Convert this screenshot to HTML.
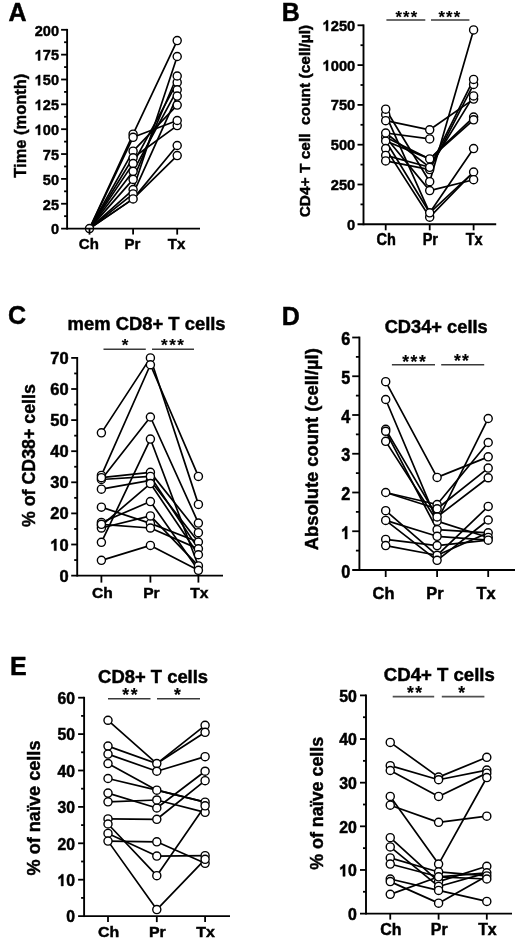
<!DOCTYPE html>
<html><head><meta charset="utf-8"><style>
html,body{margin:0;padding:0;background:#fff;}
svg{display:block;will-change:transform;}
text{font-family:"Liberation Sans", sans-serif;font-weight:bold;fill:#000;stroke:#000;stroke-width:0.45px;}
text.st{stroke-width:0.15px;}
</style></head><body>
<svg width="520" height="945" viewBox="0 0 520 945">
<rect width="520" height="945" fill="#fff"/>
<path d="M89.50,228.60 L133.10,134.20 L177.20,40.60" fill="none" stroke="#000" stroke-width="1.7" stroke-linejoin="round"/>
<path d="M89.50,228.60 L133.10,137.30 L177.20,120.50" fill="none" stroke="#000" stroke-width="1.7" stroke-linejoin="round"/>
<path d="M89.50,228.60 L133.10,151.20 L177.20,105.10" fill="none" stroke="#000" stroke-width="1.7" stroke-linejoin="round"/>
<path d="M89.50,228.60 L133.10,157.80 L177.20,125.60" fill="none" stroke="#000" stroke-width="1.7" stroke-linejoin="round"/>
<path d="M89.50,228.60 L133.10,163.60 L177.20,82.40" fill="none" stroke="#000" stroke-width="1.7" stroke-linejoin="round"/>
<path d="M89.50,228.60 L133.10,171.30 L177.20,89.80" fill="none" stroke="#000" stroke-width="1.7" stroke-linejoin="round"/>
<path d="M89.50,228.60 L133.10,179.40 L177.20,76.00" fill="none" stroke="#000" stroke-width="1.7" stroke-linejoin="round"/>
<path d="M89.50,228.60 L133.10,189.60 L177.20,56.50" fill="none" stroke="#000" stroke-width="1.7" stroke-linejoin="round"/>
<path d="M89.50,228.60 L133.10,193.90 L177.20,96.10" fill="none" stroke="#000" stroke-width="1.7" stroke-linejoin="round"/>
<path d="M89.50,228.60 L133.10,198.90 L177.20,145.50" fill="none" stroke="#000" stroke-width="1.7" stroke-linejoin="round"/>
<path d="M89.50,228.60 L133.10,198.90 L177.20,155.60" fill="none" stroke="#000" stroke-width="1.7" stroke-linejoin="round"/>
<circle cx="89.50" cy="228.60" r="4.05" fill="#fff" stroke="#000" stroke-width="1.4"/>
<circle cx="133.10" cy="134.20" r="4.05" fill="#fff" stroke="#000" stroke-width="1.4"/>
<circle cx="133.10" cy="189.60" r="4.05" fill="#fff" stroke="#000" stroke-width="1.4"/>
<circle cx="133.10" cy="193.90" r="4.05" fill="#fff" stroke="#000" stroke-width="1.4"/>
<circle cx="133.10" cy="137.30" r="4.05" fill="#fff" stroke="#000" stroke-width="1.4"/>
<circle cx="133.10" cy="151.20" r="4.05" fill="#fff" stroke="#000" stroke-width="1.4"/>
<circle cx="133.10" cy="157.80" r="4.05" fill="#fff" stroke="#000" stroke-width="1.4"/>
<circle cx="133.10" cy="163.60" r="4.05" fill="#fff" stroke="#000" stroke-width="1.4"/>
<circle cx="133.10" cy="171.30" r="4.05" fill="#fff" stroke="#000" stroke-width="1.4"/>
<circle cx="133.10" cy="179.40" r="4.05" fill="#fff" stroke="#000" stroke-width="1.4"/>
<circle cx="133.10" cy="198.90" r="4.05" fill="#fff" stroke="#000" stroke-width="1.4"/>
<circle cx="177.20" cy="125.60" r="4.05" fill="#fff" stroke="#000" stroke-width="1.4"/>
<circle cx="177.20" cy="40.60" r="4.05" fill="#fff" stroke="#000" stroke-width="1.4"/>
<circle cx="177.20" cy="120.50" r="4.05" fill="#fff" stroke="#000" stroke-width="1.4"/>
<circle cx="177.20" cy="105.10" r="4.05" fill="#fff" stroke="#000" stroke-width="1.4"/>
<circle cx="177.20" cy="82.40" r="4.05" fill="#fff" stroke="#000" stroke-width="1.4"/>
<circle cx="177.20" cy="89.80" r="4.05" fill="#fff" stroke="#000" stroke-width="1.4"/>
<circle cx="177.20" cy="76.00" r="4.05" fill="#fff" stroke="#000" stroke-width="1.4"/>
<circle cx="177.20" cy="56.50" r="4.05" fill="#fff" stroke="#000" stroke-width="1.4"/>
<circle cx="177.20" cy="96.10" r="4.05" fill="#fff" stroke="#000" stroke-width="1.4"/>
<circle cx="177.20" cy="145.50" r="4.05" fill="#fff" stroke="#000" stroke-width="1.4"/>
<circle cx="177.20" cy="155.60" r="4.05" fill="#fff" stroke="#000" stroke-width="1.4"/>
<line x1="67.10" y1="28.90" x2="67.10" y2="229.55" stroke="#000" stroke-width="1.9"/>
<line x1="61.10" y1="228.60" x2="200.00" y2="228.60" stroke="#000" stroke-width="1.9"/>
<text transform="translate(59.00 234.36) scale(0.970 1.000)" font-size="15" text-anchor="end">0</text>
<line x1="61.10" y1="203.75" x2="67.10" y2="203.75" stroke="#000" stroke-width="1.8"/>
<text transform="translate(59.00 209.51) scale(0.970 1.000)" font-size="15" text-anchor="end">25</text>
<line x1="61.10" y1="178.90" x2="67.10" y2="178.90" stroke="#000" stroke-width="1.8"/>
<text transform="translate(59.00 184.66) scale(0.970 1.000)" font-size="15" text-anchor="end">50</text>
<line x1="61.10" y1="154.05" x2="67.10" y2="154.05" stroke="#000" stroke-width="1.8"/>
<text transform="translate(59.00 159.81) scale(0.970 1.000)" font-size="15" text-anchor="end">75</text>
<line x1="61.10" y1="129.20" x2="67.10" y2="129.20" stroke="#000" stroke-width="1.8"/>
<text transform="translate(59.00 134.96) scale(0.970 1.000)" font-size="15" text-anchor="end"> 00</text>
<g transform="translate(59.00 134.96) scale(0.970 1.000)"><path transform="translate(-25.027 0) scale(0.007324 -0.007324)" d="M759 0H478V1012Q330 880 140 810V1076Q300 1130 420 1250Q500 1330 540 1409H759Z" stroke="#000" stroke-width="0.45" vector-effect="non-scaling-stroke"/></g>
<line x1="61.10" y1="104.35" x2="67.10" y2="104.35" stroke="#000" stroke-width="1.8"/>
<text transform="translate(59.00 110.11) scale(0.970 1.000)" font-size="15" text-anchor="end"> 25</text>
<g transform="translate(59.00 110.11) scale(0.970 1.000)"><path transform="translate(-25.027 0) scale(0.007324 -0.007324)" d="M759 0H478V1012Q330 880 140 810V1076Q300 1130 420 1250Q500 1330 540 1409H759Z" stroke="#000" stroke-width="0.45" vector-effect="non-scaling-stroke"/></g>
<line x1="61.10" y1="79.50" x2="67.10" y2="79.50" stroke="#000" stroke-width="1.8"/>
<text transform="translate(59.00 85.26) scale(0.970 1.000)" font-size="15" text-anchor="end"> 50</text>
<g transform="translate(59.00 85.26) scale(0.970 1.000)"><path transform="translate(-25.027 0) scale(0.007324 -0.007324)" d="M759 0H478V1012Q330 880 140 810V1076Q300 1130 420 1250Q500 1330 540 1409H759Z" stroke="#000" stroke-width="0.45" vector-effect="non-scaling-stroke"/></g>
<line x1="61.10" y1="54.65" x2="67.10" y2="54.65" stroke="#000" stroke-width="1.8"/>
<text transform="translate(59.00 60.41) scale(0.970 1.000)" font-size="15" text-anchor="end"> 75</text>
<g transform="translate(59.00 60.41) scale(0.970 1.000)"><path transform="translate(-25.027 0) scale(0.007324 -0.007324)" d="M759 0H478V1012Q330 880 140 810V1076Q300 1130 420 1250Q500 1330 540 1409H759Z" stroke="#000" stroke-width="0.45" vector-effect="non-scaling-stroke"/></g>
<line x1="61.10" y1="29.80" x2="67.10" y2="29.80" stroke="#000" stroke-width="1.8"/>
<text transform="translate(59.00 35.56) scale(0.970 1.000)" font-size="15" text-anchor="end">200</text>
<line x1="64.10" y1="216.17" x2="67.10" y2="216.17" stroke="#000" stroke-width="1.8"/>
<line x1="64.10" y1="191.32" x2="67.10" y2="191.32" stroke="#000" stroke-width="1.8"/>
<line x1="64.10" y1="166.47" x2="67.10" y2="166.47" stroke="#000" stroke-width="1.8"/>
<line x1="64.10" y1="141.62" x2="67.10" y2="141.62" stroke="#000" stroke-width="1.8"/>
<line x1="64.10" y1="116.77" x2="67.10" y2="116.77" stroke="#000" stroke-width="1.8"/>
<line x1="64.10" y1="91.92" x2="67.10" y2="91.92" stroke="#000" stroke-width="1.8"/>
<line x1="64.10" y1="67.07" x2="67.10" y2="67.07" stroke="#000" stroke-width="1.8"/>
<line x1="64.10" y1="42.22" x2="67.10" y2="42.22" stroke="#000" stroke-width="1.8"/>
<line x1="89.50" y1="228.60" x2="89.50" y2="234.60" stroke="#000" stroke-width="1.8"/>
<text transform="translate(88.80 248.60) scale(1.000 1.030)" font-size="15" text-anchor="middle">Ch</text>
<line x1="133.10" y1="228.60" x2="133.10" y2="234.60" stroke="#000" stroke-width="1.8"/>
<text transform="translate(132.40 248.60) scale(1.000 1.030)" font-size="15" text-anchor="middle">Pr</text>
<line x1="177.20" y1="228.60" x2="177.20" y2="234.60" stroke="#000" stroke-width="1.8"/>
<text transform="translate(176.50 248.60) scale(1.000 1.030)" font-size="15" text-anchor="middle">Tx</text>
<text transform="translate(26.20 125.70) rotate(-90)" font-size="17" text-anchor="middle" textLength="104" lengthAdjust="spacingAndGlyphs">Time (month)</text>
<path d="M385.70,109.20 L429.70,181.70 L473.60,29.90" fill="none" stroke="#000" stroke-width="1.7" stroke-linejoin="round"/>
<path d="M385.70,114.70 L429.70,212.80 L473.60,148.60" fill="none" stroke="#000" stroke-width="1.7" stroke-linejoin="round"/>
<path d="M385.70,120.70 L429.70,129.80 L473.60,99.10" fill="none" stroke="#000" stroke-width="1.7" stroke-linejoin="round"/>
<path d="M385.70,133.00 L429.70,138.90" fill="none" stroke="#000" stroke-width="1.7" stroke-linejoin="round"/>
<path d="M385.70,137.20 L429.70,158.90 L473.60,117.10" fill="none" stroke="#000" stroke-width="1.7" stroke-linejoin="round"/>
<path d="M385.70,141.00 L429.70,212.80 L473.60,172.00" fill="none" stroke="#000" stroke-width="1.7" stroke-linejoin="round"/>
<path d="M385.70,148.60 L429.70,217.20 L473.60,172.00" fill="none" stroke="#000" stroke-width="1.7" stroke-linejoin="round"/>
<path d="M385.70,155.40 L429.70,167.30 L473.60,79.40" fill="none" stroke="#000" stroke-width="1.7" stroke-linejoin="round"/>
<path d="M385.70,160.90 L429.70,169.60 L473.60,84.40" fill="none" stroke="#000" stroke-width="1.7" stroke-linejoin="round"/>
<path d="M385.70,137.20 L429.70,190.60 L473.60,179.70" fill="none" stroke="#000" stroke-width="1.7" stroke-linejoin="round"/>
<path d="M385.70,141.00 L429.70,158.90 L473.60,119.80" fill="none" stroke="#000" stroke-width="1.7" stroke-linejoin="round"/>
<path d="M385.70,133.00 L429.70,167.30 L473.60,95.90" fill="none" stroke="#000" stroke-width="1.7" stroke-linejoin="round"/>
<circle cx="385.70" cy="114.70" r="4.05" fill="#fff" stroke="#000" stroke-width="1.4"/>
<circle cx="385.70" cy="137.20" r="4.05" fill="#fff" stroke="#000" stroke-width="1.4"/>
<circle cx="385.70" cy="141.00" r="4.05" fill="#fff" stroke="#000" stroke-width="1.4"/>
<circle cx="385.70" cy="109.20" r="4.05" fill="#fff" stroke="#000" stroke-width="1.4"/>
<circle cx="385.70" cy="120.70" r="4.05" fill="#fff" stroke="#000" stroke-width="1.4"/>
<circle cx="385.70" cy="133.00" r="4.05" fill="#fff" stroke="#000" stroke-width="1.4"/>
<circle cx="385.70" cy="148.60" r="4.05" fill="#fff" stroke="#000" stroke-width="1.4"/>
<circle cx="385.70" cy="155.40" r="4.05" fill="#fff" stroke="#000" stroke-width="1.4"/>
<circle cx="385.70" cy="160.90" r="4.05" fill="#fff" stroke="#000" stroke-width="1.4"/>
<circle cx="429.70" cy="169.60" r="4.05" fill="#fff" stroke="#000" stroke-width="1.4"/>
<circle cx="429.70" cy="217.20" r="4.05" fill="#fff" stroke="#000" stroke-width="1.4"/>
<circle cx="429.70" cy="181.70" r="4.05" fill="#fff" stroke="#000" stroke-width="1.4"/>
<circle cx="429.70" cy="212.80" r="4.05" fill="#fff" stroke="#000" stroke-width="1.4"/>
<circle cx="429.70" cy="129.80" r="4.05" fill="#fff" stroke="#000" stroke-width="1.4"/>
<circle cx="429.70" cy="138.90" r="4.05" fill="#fff" stroke="#000" stroke-width="1.4"/>
<circle cx="429.70" cy="158.90" r="4.05" fill="#fff" stroke="#000" stroke-width="1.4"/>
<circle cx="429.70" cy="167.30" r="4.05" fill="#fff" stroke="#000" stroke-width="1.4"/>
<circle cx="429.70" cy="190.60" r="4.05" fill="#fff" stroke="#000" stroke-width="1.4"/>
<circle cx="473.60" cy="84.40" r="4.05" fill="#fff" stroke="#000" stroke-width="1.4"/>
<circle cx="473.60" cy="99.10" r="4.05" fill="#fff" stroke="#000" stroke-width="1.4"/>
<circle cx="473.60" cy="117.10" r="4.05" fill="#fff" stroke="#000" stroke-width="1.4"/>
<circle cx="473.60" cy="29.90" r="4.05" fill="#fff" stroke="#000" stroke-width="1.4"/>
<circle cx="473.60" cy="148.60" r="4.05" fill="#fff" stroke="#000" stroke-width="1.4"/>
<circle cx="473.60" cy="172.00" r="4.05" fill="#fff" stroke="#000" stroke-width="1.4"/>
<circle cx="473.60" cy="79.40" r="4.05" fill="#fff" stroke="#000" stroke-width="1.4"/>
<circle cx="473.60" cy="179.70" r="4.05" fill="#fff" stroke="#000" stroke-width="1.4"/>
<circle cx="473.60" cy="119.80" r="4.05" fill="#fff" stroke="#000" stroke-width="1.4"/>
<circle cx="473.60" cy="95.90" r="4.05" fill="#fff" stroke="#000" stroke-width="1.4"/>
<line x1="363.50" y1="24.40" x2="363.50" y2="225.25" stroke="#000" stroke-width="1.9"/>
<line x1="357.50" y1="224.30" x2="496.20" y2="224.30" stroke="#000" stroke-width="1.9"/>
<text transform="translate(355.30 229.86) scale(0.980 1.020)" font-size="15" text-anchor="end">0</text>
<line x1="357.50" y1="184.50" x2="363.50" y2="184.50" stroke="#000" stroke-width="1.8"/>
<text transform="translate(355.30 190.06) scale(0.980 1.020)" font-size="15" text-anchor="end">250</text>
<line x1="357.50" y1="144.70" x2="363.50" y2="144.70" stroke="#000" stroke-width="1.8"/>
<text transform="translate(355.30 150.26) scale(0.980 1.020)" font-size="15" text-anchor="end">500</text>
<line x1="357.50" y1="104.90" x2="363.50" y2="104.90" stroke="#000" stroke-width="1.8"/>
<text transform="translate(355.30 110.46) scale(0.980 1.020)" font-size="15" text-anchor="end">750</text>
<line x1="357.50" y1="65.10" x2="363.50" y2="65.10" stroke="#000" stroke-width="1.8"/>
<text transform="translate(355.30 70.66) scale(0.980 1.020)" font-size="15" text-anchor="end"> 000</text>
<g transform="translate(355.30 70.66) scale(0.980 1.020)"><path transform="translate(-33.369 0) scale(0.007324 -0.007324)" d="M759 0H478V1012Q330 880 140 810V1076Q300 1130 420 1250Q500 1330 540 1409H759Z" stroke="#000" stroke-width="0.45" vector-effect="non-scaling-stroke"/></g>
<line x1="357.50" y1="25.30" x2="363.50" y2="25.30" stroke="#000" stroke-width="1.8"/>
<text transform="translate(355.30 30.86) scale(0.980 1.020)" font-size="15" text-anchor="end"> 250</text>
<g transform="translate(355.30 30.86) scale(0.980 1.020)"><path transform="translate(-33.369 0) scale(0.007324 -0.007324)" d="M759 0H478V1012Q330 880 140 810V1076Q300 1130 420 1250Q500 1330 540 1409H759Z" stroke="#000" stroke-width="0.45" vector-effect="non-scaling-stroke"/></g>
<line x1="360.50" y1="204.40" x2="363.50" y2="204.40" stroke="#000" stroke-width="1.8"/>
<line x1="360.50" y1="164.60" x2="363.50" y2="164.60" stroke="#000" stroke-width="1.8"/>
<line x1="360.50" y1="124.80" x2="363.50" y2="124.80" stroke="#000" stroke-width="1.8"/>
<line x1="360.50" y1="85.00" x2="363.50" y2="85.00" stroke="#000" stroke-width="1.8"/>
<line x1="360.50" y1="45.20" x2="363.50" y2="45.20" stroke="#000" stroke-width="1.8"/>
<line x1="385.70" y1="224.30" x2="385.70" y2="230.30" stroke="#000" stroke-width="1.8"/>
<text transform="translate(386.30 244.50) scale(0.970 1.060)" font-size="15" text-anchor="middle">Ch</text>
<line x1="429.70" y1="224.30" x2="429.70" y2="230.30" stroke="#000" stroke-width="1.8"/>
<text transform="translate(430.30 244.50) scale(0.970 1.060)" font-size="15" text-anchor="middle">Pr</text>
<line x1="473.60" y1="224.30" x2="473.60" y2="230.30" stroke="#000" stroke-width="1.8"/>
<text transform="translate(474.20 244.50) scale(0.970 1.060)" font-size="15" text-anchor="middle">Tx</text>
<text transform="translate(310.00 121.10) rotate(-90)" font-size="15.2" text-anchor="middle" textLength="192.5" lengthAdjust="spacingAndGlyphs">CD4+ T cell&#160;&#160;count (cell/µl)</text>
<path d="M101.40,432.85 L150.40,357.90 L198.40,504.38" fill="none" stroke="#000" stroke-width="1.7" stroke-linejoin="round"/>
<path d="M101.40,475.46 L150.40,364.74 L198.40,476.39" fill="none" stroke="#000" stroke-width="1.7" stroke-linejoin="round"/>
<path d="M101.40,479.50 L150.40,416.99 L198.40,523.04" fill="none" stroke="#000" stroke-width="1.7" stroke-linejoin="round"/>
<path d="M101.40,542.32 L150.40,439.07 L198.40,565.96" fill="none" stroke="#000" stroke-width="1.7" stroke-linejoin="round"/>
<path d="M101.40,477.64 L150.40,472.35 L198.40,532.68" fill="none" stroke="#000" stroke-width="1.7" stroke-linejoin="round"/>
<path d="M101.40,489.14 L150.40,480.43 L198.40,542.01" fill="none" stroke="#000" stroke-width="1.7" stroke-linejoin="round"/>
<path d="M101.40,479.50 L150.40,476.39 L198.40,548.85" fill="none" stroke="#000" stroke-width="1.7" stroke-linejoin="round"/>
<path d="M101.40,525.53 L150.40,483.54 L198.40,554.76" fill="none" stroke="#000" stroke-width="1.7" stroke-linejoin="round"/>
<path d="M101.40,522.42 L150.40,501.58 L198.40,570.31" fill="none" stroke="#000" stroke-width="1.7" stroke-linejoin="round"/>
<path d="M101.40,507.18 L150.40,523.35 L198.40,542.01" fill="none" stroke="#000" stroke-width="1.7" stroke-linejoin="round"/>
<path d="M101.40,528.02 L150.40,515.89 L198.40,565.96" fill="none" stroke="#000" stroke-width="1.7" stroke-linejoin="round"/>
<path d="M101.40,524.29 L150.40,528.02 L198.40,548.85" fill="none" stroke="#000" stroke-width="1.7" stroke-linejoin="round"/>
<path d="M101.40,560.36 L150.40,545.43 L198.40,570.31" fill="none" stroke="#000" stroke-width="1.7" stroke-linejoin="round"/>
<circle cx="101.40" cy="432.85" r="4.05" fill="#fff" stroke="#000" stroke-width="1.4"/>
<circle cx="101.40" cy="475.46" r="4.05" fill="#fff" stroke="#000" stroke-width="1.4"/>
<circle cx="101.40" cy="479.50" r="4.05" fill="#fff" stroke="#000" stroke-width="1.4"/>
<circle cx="101.40" cy="542.32" r="4.05" fill="#fff" stroke="#000" stroke-width="1.4"/>
<circle cx="101.40" cy="477.64" r="4.05" fill="#fff" stroke="#000" stroke-width="1.4"/>
<circle cx="101.40" cy="489.14" r="4.05" fill="#fff" stroke="#000" stroke-width="1.4"/>
<circle cx="101.40" cy="525.53" r="4.05" fill="#fff" stroke="#000" stroke-width="1.4"/>
<circle cx="101.40" cy="522.42" r="4.05" fill="#fff" stroke="#000" stroke-width="1.4"/>
<circle cx="101.40" cy="507.18" r="4.05" fill="#fff" stroke="#000" stroke-width="1.4"/>
<circle cx="101.40" cy="528.02" r="4.05" fill="#fff" stroke="#000" stroke-width="1.4"/>
<circle cx="101.40" cy="524.29" r="4.05" fill="#fff" stroke="#000" stroke-width="1.4"/>
<circle cx="101.40" cy="560.36" r="4.05" fill="#fff" stroke="#000" stroke-width="1.4"/>
<circle cx="150.40" cy="357.90" r="4.05" fill="#fff" stroke="#000" stroke-width="1.4"/>
<circle cx="150.40" cy="364.74" r="4.05" fill="#fff" stroke="#000" stroke-width="1.4"/>
<circle cx="150.40" cy="416.99" r="4.05" fill="#fff" stroke="#000" stroke-width="1.4"/>
<circle cx="150.40" cy="439.07" r="4.05" fill="#fff" stroke="#000" stroke-width="1.4"/>
<circle cx="150.40" cy="472.35" r="4.05" fill="#fff" stroke="#000" stroke-width="1.4"/>
<circle cx="150.40" cy="480.43" r="4.05" fill="#fff" stroke="#000" stroke-width="1.4"/>
<circle cx="150.40" cy="476.39" r="4.05" fill="#fff" stroke="#000" stroke-width="1.4"/>
<circle cx="150.40" cy="483.54" r="4.05" fill="#fff" stroke="#000" stroke-width="1.4"/>
<circle cx="150.40" cy="501.58" r="4.05" fill="#fff" stroke="#000" stroke-width="1.4"/>
<circle cx="150.40" cy="523.35" r="4.05" fill="#fff" stroke="#000" stroke-width="1.4"/>
<circle cx="150.40" cy="515.89" r="4.05" fill="#fff" stroke="#000" stroke-width="1.4"/>
<circle cx="150.40" cy="528.02" r="4.05" fill="#fff" stroke="#000" stroke-width="1.4"/>
<circle cx="150.40" cy="545.43" r="4.05" fill="#fff" stroke="#000" stroke-width="1.4"/>
<circle cx="198.40" cy="504.38" r="4.05" fill="#fff" stroke="#000" stroke-width="1.4"/>
<circle cx="198.40" cy="476.39" r="4.05" fill="#fff" stroke="#000" stroke-width="1.4"/>
<circle cx="198.40" cy="523.04" r="4.05" fill="#fff" stroke="#000" stroke-width="1.4"/>
<circle cx="198.40" cy="565.96" r="4.05" fill="#fff" stroke="#000" stroke-width="1.4"/>
<circle cx="198.40" cy="532.68" r="4.05" fill="#fff" stroke="#000" stroke-width="1.4"/>
<circle cx="198.40" cy="542.01" r="4.05" fill="#fff" stroke="#000" stroke-width="1.4"/>
<circle cx="198.40" cy="548.85" r="4.05" fill="#fff" stroke="#000" stroke-width="1.4"/>
<circle cx="198.40" cy="554.76" r="4.05" fill="#fff" stroke="#000" stroke-width="1.4"/>
<circle cx="198.40" cy="570.31" r="4.05" fill="#fff" stroke="#000" stroke-width="1.4"/>
<line x1="77.20" y1="357.00" x2="77.20" y2="576.55" stroke="#000" stroke-width="1.9"/>
<line x1="71.20" y1="575.60" x2="223.00" y2="575.60" stroke="#000" stroke-width="1.9"/>
<text transform="translate(68.60 581.68) scale(1.100 1.120)" font-size="15" text-anchor="end">0</text>
<line x1="71.20" y1="544.50" x2="77.20" y2="544.50" stroke="#000" stroke-width="1.8"/>
<text transform="translate(68.60 550.58) scale(1.100 1.120)" font-size="15" text-anchor="end"> 0</text>
<g transform="translate(68.60 550.58) scale(1.100 1.120)"><path transform="translate(-16.685 0) scale(0.007324 -0.007324)" d="M759 0H478V1012Q330 880 140 810V1076Q300 1130 420 1250Q500 1330 540 1409H759Z" stroke="#000" stroke-width="0.45" vector-effect="non-scaling-stroke"/></g>
<line x1="71.20" y1="513.40" x2="77.20" y2="513.40" stroke="#000" stroke-width="1.8"/>
<text transform="translate(68.60 519.48) scale(1.100 1.120)" font-size="15" text-anchor="end">20</text>
<line x1="71.20" y1="482.30" x2="77.20" y2="482.30" stroke="#000" stroke-width="1.8"/>
<text transform="translate(68.60 488.38) scale(1.100 1.120)" font-size="15" text-anchor="end">30</text>
<line x1="71.20" y1="451.20" x2="77.20" y2="451.20" stroke="#000" stroke-width="1.8"/>
<text transform="translate(68.60 457.28) scale(1.100 1.120)" font-size="15" text-anchor="end">40</text>
<line x1="71.20" y1="420.10" x2="77.20" y2="420.10" stroke="#000" stroke-width="1.8"/>
<text transform="translate(68.60 426.18) scale(1.100 1.120)" font-size="15" text-anchor="end">50</text>
<line x1="71.20" y1="389.00" x2="77.20" y2="389.00" stroke="#000" stroke-width="1.8"/>
<text transform="translate(68.60 395.08) scale(1.100 1.120)" font-size="15" text-anchor="end">60</text>
<line x1="71.20" y1="357.90" x2="77.20" y2="357.90" stroke="#000" stroke-width="1.8"/>
<text transform="translate(68.60 363.98) scale(1.100 1.120)" font-size="15" text-anchor="end">70</text>
<line x1="74.20" y1="560.05" x2="77.20" y2="560.05" stroke="#000" stroke-width="1.8"/>
<line x1="74.20" y1="528.95" x2="77.20" y2="528.95" stroke="#000" stroke-width="1.8"/>
<line x1="74.20" y1="497.85" x2="77.20" y2="497.85" stroke="#000" stroke-width="1.8"/>
<line x1="74.20" y1="466.75" x2="77.20" y2="466.75" stroke="#000" stroke-width="1.8"/>
<line x1="74.20" y1="435.65" x2="77.20" y2="435.65" stroke="#000" stroke-width="1.8"/>
<line x1="74.20" y1="404.55" x2="77.20" y2="404.55" stroke="#000" stroke-width="1.8"/>
<line x1="74.20" y1="373.45" x2="77.20" y2="373.45" stroke="#000" stroke-width="1.8"/>
<line x1="101.40" y1="575.60" x2="101.40" y2="582.60" stroke="#000" stroke-width="1.8"/>
<text transform="translate(102.40 598.00) scale(1.040 0.990)" font-size="15" text-anchor="middle">Ch</text>
<line x1="150.40" y1="575.60" x2="150.40" y2="582.60" stroke="#000" stroke-width="1.8"/>
<text transform="translate(151.40 598.00) scale(1.040 0.990)" font-size="15" text-anchor="middle">Pr</text>
<line x1="198.40" y1="575.60" x2="198.40" y2="582.60" stroke="#000" stroke-width="1.8"/>
<text transform="translate(199.40 598.00) scale(1.040 0.990)" font-size="15" text-anchor="middle">Tx</text>
<text transform="translate(34.50 455.60) rotate(-90)" font-size="18" text-anchor="middle" textLength="143" lengthAdjust="spacingAndGlyphs">% of CD38+ cells</text>
<path d="M385.70,381.67 L437.10,477.39 L488.20,456.85" fill="none" stroke="#000" stroke-width="1.7" stroke-linejoin="round"/>
<path d="M385.70,399.50 L437.10,521.17 L488.20,418.49" fill="none" stroke="#000" stroke-width="1.7" stroke-linejoin="round"/>
<path d="M385.70,429.34 L437.10,516.91 L488.20,477.77" fill="none" stroke="#000" stroke-width="1.7" stroke-linejoin="round"/>
<path d="M385.70,431.27 L437.10,529.70 L488.20,532.80" fill="none" stroke="#000" stroke-width="1.7" stroke-linejoin="round"/>
<path d="M385.70,441.35 L437.10,521.17 L488.20,537.45" fill="none" stroke="#000" stroke-width="1.7" stroke-linejoin="round"/>
<path d="M385.70,492.50 L437.10,504.51 L488.20,442.51" fill="none" stroke="#000" stroke-width="1.7" stroke-linejoin="round"/>
<path d="M385.70,492.50 L437.10,508.77 L488.20,468.09" fill="none" stroke="#000" stroke-width="1.7" stroke-linejoin="round"/>
<path d="M385.70,510.71 L437.10,555.27 L488.20,506.45" fill="none" stroke="#000" stroke-width="1.7" stroke-linejoin="round"/>
<path d="M385.70,520.40 L437.10,560.31 L488.20,520.01" fill="none" stroke="#000" stroke-width="1.7" stroke-linejoin="round"/>
<path d="M385.70,539.39 L437.10,545.59 L488.20,540.16" fill="none" stroke="#000" stroke-width="1.7" stroke-linejoin="round"/>
<path d="M385.70,545.59 L437.10,555.27 L488.20,532.80" fill="none" stroke="#000" stroke-width="1.7" stroke-linejoin="round"/>
<path d="M385.70,520.40 L437.10,536.29 L488.20,540.16" fill="none" stroke="#000" stroke-width="1.7" stroke-linejoin="round"/>
<circle cx="385.70" cy="381.67" r="4.05" fill="#fff" stroke="#000" stroke-width="1.4"/>
<circle cx="385.70" cy="399.50" r="4.05" fill="#fff" stroke="#000" stroke-width="1.4"/>
<circle cx="385.70" cy="429.34" r="4.05" fill="#fff" stroke="#000" stroke-width="1.4"/>
<circle cx="385.70" cy="431.27" r="4.05" fill="#fff" stroke="#000" stroke-width="1.4"/>
<circle cx="385.70" cy="441.35" r="4.05" fill="#fff" stroke="#000" stroke-width="1.4"/>
<circle cx="385.70" cy="492.50" r="4.05" fill="#fff" stroke="#000" stroke-width="1.4"/>
<circle cx="385.70" cy="510.71" r="4.05" fill="#fff" stroke="#000" stroke-width="1.4"/>
<circle cx="385.70" cy="520.40" r="4.05" fill="#fff" stroke="#000" stroke-width="1.4"/>
<circle cx="385.70" cy="539.39" r="4.05" fill="#fff" stroke="#000" stroke-width="1.4"/>
<circle cx="385.70" cy="545.59" r="4.05" fill="#fff" stroke="#000" stroke-width="1.4"/>
<circle cx="437.10" cy="477.39" r="4.05" fill="#fff" stroke="#000" stroke-width="1.4"/>
<circle cx="437.10" cy="521.17" r="4.05" fill="#fff" stroke="#000" stroke-width="1.4"/>
<circle cx="437.10" cy="516.91" r="4.05" fill="#fff" stroke="#000" stroke-width="1.4"/>
<circle cx="437.10" cy="529.70" r="4.05" fill="#fff" stroke="#000" stroke-width="1.4"/>
<circle cx="437.10" cy="504.51" r="4.05" fill="#fff" stroke="#000" stroke-width="1.4"/>
<circle cx="437.10" cy="508.77" r="4.05" fill="#fff" stroke="#000" stroke-width="1.4"/>
<circle cx="437.10" cy="555.27" r="4.05" fill="#fff" stroke="#000" stroke-width="1.4"/>
<circle cx="437.10" cy="560.31" r="4.05" fill="#fff" stroke="#000" stroke-width="1.4"/>
<circle cx="437.10" cy="545.59" r="4.05" fill="#fff" stroke="#000" stroke-width="1.4"/>
<circle cx="437.10" cy="536.29" r="4.05" fill="#fff" stroke="#000" stroke-width="1.4"/>
<circle cx="488.20" cy="456.85" r="4.05" fill="#fff" stroke="#000" stroke-width="1.4"/>
<circle cx="488.20" cy="418.49" r="4.05" fill="#fff" stroke="#000" stroke-width="1.4"/>
<circle cx="488.20" cy="477.77" r="4.05" fill="#fff" stroke="#000" stroke-width="1.4"/>
<circle cx="488.20" cy="532.80" r="4.05" fill="#fff" stroke="#000" stroke-width="1.4"/>
<circle cx="488.20" cy="537.45" r="4.05" fill="#fff" stroke="#000" stroke-width="1.4"/>
<circle cx="488.20" cy="442.51" r="4.05" fill="#fff" stroke="#000" stroke-width="1.4"/>
<circle cx="488.20" cy="468.09" r="4.05" fill="#fff" stroke="#000" stroke-width="1.4"/>
<circle cx="488.20" cy="506.45" r="4.05" fill="#fff" stroke="#000" stroke-width="1.4"/>
<circle cx="488.20" cy="520.01" r="4.05" fill="#fff" stroke="#000" stroke-width="1.4"/>
<circle cx="488.20" cy="540.16" r="4.05" fill="#fff" stroke="#000" stroke-width="1.4"/>
<line x1="359.40" y1="336.60" x2="359.40" y2="570.95" stroke="#000" stroke-width="1.9"/>
<line x1="352.20" y1="570.00" x2="515.00" y2="570.00" stroke="#000" stroke-width="1.9"/>
<text transform="translate(350.20 577.70) scale(1.080 1.220)" font-size="15" text-anchor="end">0</text>
<line x1="352.20" y1="531.25" x2="359.40" y2="531.25" stroke="#000" stroke-width="1.8"/>
<text transform="translate(350.20 538.95) scale(1.080 1.220)" font-size="15" text-anchor="end"> </text>
<g transform="translate(350.20 538.95) scale(1.080 1.220)"><path transform="translate(-8.342 0) scale(0.007324 -0.007324)" d="M759 0H478V1012Q330 880 140 810V1076Q300 1130 420 1250Q500 1330 540 1409H759Z" stroke="#000" stroke-width="0.45" vector-effect="non-scaling-stroke"/></g>
<line x1="352.20" y1="492.50" x2="359.40" y2="492.50" stroke="#000" stroke-width="1.8"/>
<text transform="translate(350.20 500.20) scale(1.080 1.220)" font-size="15" text-anchor="end">2</text>
<line x1="352.20" y1="453.75" x2="359.40" y2="453.75" stroke="#000" stroke-width="1.8"/>
<text transform="translate(350.20 461.45) scale(1.080 1.220)" font-size="15" text-anchor="end">3</text>
<line x1="352.20" y1="415.00" x2="359.40" y2="415.00" stroke="#000" stroke-width="1.8"/>
<text transform="translate(350.20 422.70) scale(1.080 1.220)" font-size="15" text-anchor="end">4</text>
<line x1="352.20" y1="376.25" x2="359.40" y2="376.25" stroke="#000" stroke-width="1.8"/>
<text transform="translate(350.20 383.95) scale(1.080 1.220)" font-size="15" text-anchor="end">5</text>
<line x1="352.20" y1="337.50" x2="359.40" y2="337.50" stroke="#000" stroke-width="1.8"/>
<text transform="translate(350.20 345.20) scale(1.080 1.220)" font-size="15" text-anchor="end">6</text>
<line x1="355.90" y1="550.62" x2="359.40" y2="550.62" stroke="#000" stroke-width="1.8"/>
<line x1="355.90" y1="511.88" x2="359.40" y2="511.88" stroke="#000" stroke-width="1.8"/>
<line x1="355.90" y1="473.12" x2="359.40" y2="473.12" stroke="#000" stroke-width="1.8"/>
<line x1="355.90" y1="434.38" x2="359.40" y2="434.38" stroke="#000" stroke-width="1.8"/>
<line x1="355.90" y1="395.62" x2="359.40" y2="395.62" stroke="#000" stroke-width="1.8"/>
<line x1="355.90" y1="356.88" x2="359.40" y2="356.88" stroke="#000" stroke-width="1.8"/>
<line x1="385.70" y1="570.00" x2="385.70" y2="577.00" stroke="#000" stroke-width="1.8"/>
<text transform="translate(383.50 599.30) scale(1.090 1.080)" font-size="15" text-anchor="middle">Ch</text>
<line x1="437.10" y1="570.00" x2="437.10" y2="577.00" stroke="#000" stroke-width="1.8"/>
<text transform="translate(434.90 599.30) scale(1.090 1.080)" font-size="15" text-anchor="middle">Pr</text>
<line x1="488.20" y1="570.00" x2="488.20" y2="577.00" stroke="#000" stroke-width="1.8"/>
<text transform="translate(486.00 599.30) scale(1.090 1.080)" font-size="15" text-anchor="middle">Tx</text>
<text transform="translate(317.80 449.20) rotate(-90)" font-size="18" text-anchor="middle" textLength="202" lengthAdjust="spacingAndGlyphs">Absolute count (cell/µl)</text>
<path d="M108.00,720.27 L156.80,763.58 L205.10,725.36" fill="none" stroke="#000" stroke-width="1.7" stroke-linejoin="round"/>
<path d="M108.00,746.11 L156.80,763.58 L205.10,732.28" fill="none" stroke="#000" stroke-width="1.7" stroke-linejoin="round"/>
<path d="M108.00,754.12 L156.80,771.23 L205.10,756.67" fill="none" stroke="#000" stroke-width="1.7" stroke-linejoin="round"/>
<path d="M108.00,763.58 L156.80,790.16 L205.10,802.17" fill="none" stroke="#000" stroke-width="1.7" stroke-linejoin="round"/>
<path d="M108.00,778.51 L156.80,790.16 L205.10,802.17" fill="none" stroke="#000" stroke-width="1.7" stroke-linejoin="round"/>
<path d="M108.00,793.07 L156.80,807.99 L205.10,771.23" fill="none" stroke="#000" stroke-width="1.7" stroke-linejoin="round"/>
<path d="M108.00,801.80 L156.80,799.98 L205.10,812.36" fill="none" stroke="#000" stroke-width="1.7" stroke-linejoin="round"/>
<path d="M108.00,818.91 L156.80,819.28 L205.10,780.69" fill="none" stroke="#000" stroke-width="1.7" stroke-linejoin="round"/>
<path d="M108.00,824.01 L156.80,875.70 L205.10,805.81" fill="none" stroke="#000" stroke-width="1.7" stroke-linejoin="round"/>
<path d="M108.00,833.47 L156.80,856.04 L205.10,855.68" fill="none" stroke="#000" stroke-width="1.7" stroke-linejoin="round"/>
<path d="M108.00,841.12 L156.80,841.84 L205.10,863.32" fill="none" stroke="#000" stroke-width="1.7" stroke-linejoin="round"/>
<path d="M108.00,841.12 L156.80,909.55 L205.10,859.32" fill="none" stroke="#000" stroke-width="1.7" stroke-linejoin="round"/>
<circle cx="108.00" cy="720.27" r="4.05" fill="#fff" stroke="#000" stroke-width="1.4"/>
<circle cx="108.00" cy="746.11" r="4.05" fill="#fff" stroke="#000" stroke-width="1.4"/>
<circle cx="108.00" cy="754.12" r="4.05" fill="#fff" stroke="#000" stroke-width="1.4"/>
<circle cx="108.00" cy="763.58" r="4.05" fill="#fff" stroke="#000" stroke-width="1.4"/>
<circle cx="108.00" cy="778.51" r="4.05" fill="#fff" stroke="#000" stroke-width="1.4"/>
<circle cx="108.00" cy="793.07" r="4.05" fill="#fff" stroke="#000" stroke-width="1.4"/>
<circle cx="108.00" cy="801.80" r="4.05" fill="#fff" stroke="#000" stroke-width="1.4"/>
<circle cx="108.00" cy="818.91" r="4.05" fill="#fff" stroke="#000" stroke-width="1.4"/>
<circle cx="108.00" cy="824.01" r="4.05" fill="#fff" stroke="#000" stroke-width="1.4"/>
<circle cx="108.00" cy="833.47" r="4.05" fill="#fff" stroke="#000" stroke-width="1.4"/>
<circle cx="108.00" cy="841.12" r="4.05" fill="#fff" stroke="#000" stroke-width="1.4"/>
<circle cx="156.80" cy="763.58" r="4.05" fill="#fff" stroke="#000" stroke-width="1.4"/>
<circle cx="156.80" cy="771.23" r="4.05" fill="#fff" stroke="#000" stroke-width="1.4"/>
<circle cx="156.80" cy="790.16" r="4.05" fill="#fff" stroke="#000" stroke-width="1.4"/>
<circle cx="156.80" cy="807.99" r="4.05" fill="#fff" stroke="#000" stroke-width="1.4"/>
<circle cx="156.80" cy="799.98" r="4.05" fill="#fff" stroke="#000" stroke-width="1.4"/>
<circle cx="156.80" cy="819.28" r="4.05" fill="#fff" stroke="#000" stroke-width="1.4"/>
<circle cx="156.80" cy="875.70" r="4.05" fill="#fff" stroke="#000" stroke-width="1.4"/>
<circle cx="156.80" cy="856.04" r="4.05" fill="#fff" stroke="#000" stroke-width="1.4"/>
<circle cx="156.80" cy="841.84" r="4.05" fill="#fff" stroke="#000" stroke-width="1.4"/>
<circle cx="156.80" cy="909.55" r="4.05" fill="#fff" stroke="#000" stroke-width="1.4"/>
<circle cx="205.10" cy="725.36" r="4.05" fill="#fff" stroke="#000" stroke-width="1.4"/>
<circle cx="205.10" cy="732.28" r="4.05" fill="#fff" stroke="#000" stroke-width="1.4"/>
<circle cx="205.10" cy="756.67" r="4.05" fill="#fff" stroke="#000" stroke-width="1.4"/>
<circle cx="205.10" cy="802.17" r="4.05" fill="#fff" stroke="#000" stroke-width="1.4"/>
<circle cx="205.10" cy="771.23" r="4.05" fill="#fff" stroke="#000" stroke-width="1.4"/>
<circle cx="205.10" cy="812.36" r="4.05" fill="#fff" stroke="#000" stroke-width="1.4"/>
<circle cx="205.10" cy="780.69" r="4.05" fill="#fff" stroke="#000" stroke-width="1.4"/>
<circle cx="205.10" cy="805.81" r="4.05" fill="#fff" stroke="#000" stroke-width="1.4"/>
<circle cx="205.10" cy="855.68" r="4.05" fill="#fff" stroke="#000" stroke-width="1.4"/>
<circle cx="205.10" cy="863.32" r="4.05" fill="#fff" stroke="#000" stroke-width="1.4"/>
<circle cx="205.10" cy="859.32" r="4.05" fill="#fff" stroke="#000" stroke-width="1.4"/>
<line x1="84.10" y1="696.80" x2="84.10" y2="917.05" stroke="#000" stroke-width="1.9"/>
<line x1="78.10" y1="916.10" x2="230.00" y2="916.10" stroke="#000" stroke-width="1.9"/>
<text transform="translate(75.00 922.38) scale(1.050 1.140)" font-size="15" text-anchor="end">0</text>
<line x1="78.10" y1="879.70" x2="84.10" y2="879.70" stroke="#000" stroke-width="1.8"/>
<text transform="translate(75.00 885.98) scale(1.050 1.140)" font-size="15" text-anchor="end"> 0</text>
<g transform="translate(75.00 885.98) scale(1.050 1.140)"><path transform="translate(-16.685 0) scale(0.007324 -0.007324)" d="M759 0H478V1012Q330 880 140 810V1076Q300 1130 420 1250Q500 1330 540 1409H759Z" stroke="#000" stroke-width="0.45" vector-effect="non-scaling-stroke"/></g>
<line x1="78.10" y1="843.30" x2="84.10" y2="843.30" stroke="#000" stroke-width="1.8"/>
<text transform="translate(75.00 849.58) scale(1.050 1.140)" font-size="15" text-anchor="end">20</text>
<line x1="78.10" y1="806.90" x2="84.10" y2="806.90" stroke="#000" stroke-width="1.8"/>
<text transform="translate(75.00 813.18) scale(1.050 1.140)" font-size="15" text-anchor="end">30</text>
<line x1="78.10" y1="770.50" x2="84.10" y2="770.50" stroke="#000" stroke-width="1.8"/>
<text transform="translate(75.00 776.78) scale(1.050 1.140)" font-size="15" text-anchor="end">40</text>
<line x1="78.10" y1="734.10" x2="84.10" y2="734.10" stroke="#000" stroke-width="1.8"/>
<text transform="translate(75.00 740.38) scale(1.050 1.140)" font-size="15" text-anchor="end">50</text>
<line x1="78.10" y1="697.70" x2="84.10" y2="697.70" stroke="#000" stroke-width="1.8"/>
<text transform="translate(75.00 703.98) scale(1.050 1.140)" font-size="15" text-anchor="end">60</text>
<line x1="81.10" y1="897.90" x2="84.10" y2="897.90" stroke="#000" stroke-width="1.8"/>
<line x1="81.10" y1="861.50" x2="84.10" y2="861.50" stroke="#000" stroke-width="1.8"/>
<line x1="81.10" y1="825.10" x2="84.10" y2="825.10" stroke="#000" stroke-width="1.8"/>
<line x1="81.10" y1="788.70" x2="84.10" y2="788.70" stroke="#000" stroke-width="1.8"/>
<line x1="81.10" y1="752.30" x2="84.10" y2="752.30" stroke="#000" stroke-width="1.8"/>
<line x1="81.10" y1="715.90" x2="84.10" y2="715.90" stroke="#000" stroke-width="1.8"/>
<line x1="108.00" y1="916.10" x2="108.00" y2="922.10" stroke="#000" stroke-width="1.8"/>
<text transform="translate(108.50 937.40) scale(1.060 1.030)" font-size="15" text-anchor="middle">Ch</text>
<line x1="156.80" y1="916.10" x2="156.80" y2="922.10" stroke="#000" stroke-width="1.8"/>
<text transform="translate(157.30 937.40) scale(1.060 1.030)" font-size="15" text-anchor="middle">Pr</text>
<line x1="205.10" y1="916.10" x2="205.10" y2="922.10" stroke="#000" stroke-width="1.8"/>
<text transform="translate(205.60 937.40) scale(1.060 1.030)" font-size="15" text-anchor="middle">Tx</text>
<text transform="translate(39.50 808.00) rotate(-90)" font-size="18.5" text-anchor="middle" textLength="135" lengthAdjust="spacingAndGlyphs">% of naïve cells</text>
<path d="M390.25,742.39 L438.60,777.09 L486.80,757.33" fill="none" stroke="#000" stroke-width="1.7" stroke-linejoin="round"/>
<path d="M390.25,765.67 L438.60,779.73 L486.80,770.06" fill="none" stroke="#000" stroke-width="1.7" stroke-linejoin="round"/>
<path d="M390.25,770.50 L438.60,796.42 L486.80,773.14" fill="none" stroke="#000" stroke-width="1.7" stroke-linejoin="round"/>
<path d="M390.25,796.42 L438.60,864.05 L486.80,777.53" fill="none" stroke="#000" stroke-width="1.7" stroke-linejoin="round"/>
<path d="M390.25,805.20 L438.60,822.33 L486.80,816.18" fill="none" stroke="#000" stroke-width="1.7" stroke-linejoin="round"/>
<path d="M390.25,837.70 L438.60,881.62 L486.80,866.25" fill="none" stroke="#000" stroke-width="1.7" stroke-linejoin="round"/>
<path d="M390.25,846.92 L438.60,886.45 L486.80,872.84" fill="none" stroke="#000" stroke-width="1.7" stroke-linejoin="round"/>
<path d="M390.25,857.90 L438.60,871.96 L486.80,875.91" fill="none" stroke="#000" stroke-width="1.7" stroke-linejoin="round"/>
<path d="M390.25,864.05 L438.60,876.79 L486.80,878.99" fill="none" stroke="#000" stroke-width="1.7" stroke-linejoin="round"/>
<path d="M390.25,878.99 L438.60,890.40 L486.80,901.38" fill="none" stroke="#000" stroke-width="1.7" stroke-linejoin="round"/>
<path d="M390.25,881.62 L438.60,903.14 L486.80,875.91" fill="none" stroke="#000" stroke-width="1.7" stroke-linejoin="round"/>
<path d="M390.25,894.36 L438.60,876.79 L486.80,872.84" fill="none" stroke="#000" stroke-width="1.7" stroke-linejoin="round"/>
<circle cx="390.25" cy="742.39" r="4.05" fill="#fff" stroke="#000" stroke-width="1.4"/>
<circle cx="390.25" cy="765.67" r="4.05" fill="#fff" stroke="#000" stroke-width="1.4"/>
<circle cx="390.25" cy="770.50" r="4.05" fill="#fff" stroke="#000" stroke-width="1.4"/>
<circle cx="390.25" cy="796.42" r="4.05" fill="#fff" stroke="#000" stroke-width="1.4"/>
<circle cx="390.25" cy="805.20" r="4.05" fill="#fff" stroke="#000" stroke-width="1.4"/>
<circle cx="390.25" cy="837.70" r="4.05" fill="#fff" stroke="#000" stroke-width="1.4"/>
<circle cx="390.25" cy="846.92" r="4.05" fill="#fff" stroke="#000" stroke-width="1.4"/>
<circle cx="390.25" cy="857.90" r="4.05" fill="#fff" stroke="#000" stroke-width="1.4"/>
<circle cx="390.25" cy="864.05" r="4.05" fill="#fff" stroke="#000" stroke-width="1.4"/>
<circle cx="390.25" cy="878.99" r="4.05" fill="#fff" stroke="#000" stroke-width="1.4"/>
<circle cx="390.25" cy="881.62" r="4.05" fill="#fff" stroke="#000" stroke-width="1.4"/>
<circle cx="390.25" cy="894.36" r="4.05" fill="#fff" stroke="#000" stroke-width="1.4"/>
<circle cx="438.60" cy="777.09" r="4.05" fill="#fff" stroke="#000" stroke-width="1.4"/>
<circle cx="438.60" cy="779.73" r="4.05" fill="#fff" stroke="#000" stroke-width="1.4"/>
<circle cx="438.60" cy="796.42" r="4.05" fill="#fff" stroke="#000" stroke-width="1.4"/>
<circle cx="438.60" cy="864.05" r="4.05" fill="#fff" stroke="#000" stroke-width="1.4"/>
<circle cx="438.60" cy="822.33" r="4.05" fill="#fff" stroke="#000" stroke-width="1.4"/>
<circle cx="438.60" cy="881.62" r="4.05" fill="#fff" stroke="#000" stroke-width="1.4"/>
<circle cx="438.60" cy="886.45" r="4.05" fill="#fff" stroke="#000" stroke-width="1.4"/>
<circle cx="438.60" cy="871.96" r="4.05" fill="#fff" stroke="#000" stroke-width="1.4"/>
<circle cx="438.60" cy="876.79" r="4.05" fill="#fff" stroke="#000" stroke-width="1.4"/>
<circle cx="438.60" cy="890.40" r="4.05" fill="#fff" stroke="#000" stroke-width="1.4"/>
<circle cx="438.60" cy="903.14" r="4.05" fill="#fff" stroke="#000" stroke-width="1.4"/>
<circle cx="486.80" cy="757.33" r="4.05" fill="#fff" stroke="#000" stroke-width="1.4"/>
<circle cx="486.80" cy="770.06" r="4.05" fill="#fff" stroke="#000" stroke-width="1.4"/>
<circle cx="486.80" cy="773.14" r="4.05" fill="#fff" stroke="#000" stroke-width="1.4"/>
<circle cx="486.80" cy="777.53" r="4.05" fill="#fff" stroke="#000" stroke-width="1.4"/>
<circle cx="486.80" cy="816.18" r="4.05" fill="#fff" stroke="#000" stroke-width="1.4"/>
<circle cx="486.80" cy="866.25" r="4.05" fill="#fff" stroke="#000" stroke-width="1.4"/>
<circle cx="486.80" cy="872.84" r="4.05" fill="#fff" stroke="#000" stroke-width="1.4"/>
<circle cx="486.80" cy="875.91" r="4.05" fill="#fff" stroke="#000" stroke-width="1.4"/>
<circle cx="486.80" cy="878.99" r="4.05" fill="#fff" stroke="#000" stroke-width="1.4"/>
<circle cx="486.80" cy="901.38" r="4.05" fill="#fff" stroke="#000" stroke-width="1.4"/>
<line x1="366.00" y1="694.50" x2="366.00" y2="914.55" stroke="#000" stroke-width="1.9"/>
<line x1="360.00" y1="913.60" x2="512.00" y2="913.60" stroke="#000" stroke-width="1.9"/>
<text transform="translate(356.90 919.98) scale(1.060 1.140)" font-size="15" text-anchor="end">0</text>
<line x1="360.00" y1="869.96" x2="366.00" y2="869.96" stroke="#000" stroke-width="1.8"/>
<text transform="translate(356.90 876.34) scale(1.060 1.140)" font-size="15" text-anchor="end"> 0</text>
<g transform="translate(356.90 876.34) scale(1.060 1.140)"><path transform="translate(-16.685 0) scale(0.007324 -0.007324)" d="M759 0H478V1012Q330 880 140 810V1076Q300 1130 420 1250Q500 1330 540 1409H759Z" stroke="#000" stroke-width="0.45" vector-effect="non-scaling-stroke"/></g>
<line x1="360.00" y1="826.32" x2="366.00" y2="826.32" stroke="#000" stroke-width="1.8"/>
<text transform="translate(356.90 832.70) scale(1.060 1.140)" font-size="15" text-anchor="end">20</text>
<line x1="360.00" y1="782.68" x2="366.00" y2="782.68" stroke="#000" stroke-width="1.8"/>
<text transform="translate(356.90 789.06) scale(1.060 1.140)" font-size="15" text-anchor="end">30</text>
<line x1="360.00" y1="739.04" x2="366.00" y2="739.04" stroke="#000" stroke-width="1.8"/>
<text transform="translate(356.90 745.42) scale(1.060 1.140)" font-size="15" text-anchor="end">40</text>
<line x1="360.00" y1="695.40" x2="366.00" y2="695.40" stroke="#000" stroke-width="1.8"/>
<text transform="translate(356.90 701.78) scale(1.060 1.140)" font-size="15" text-anchor="end">50</text>
<line x1="363.00" y1="891.78" x2="366.00" y2="891.78" stroke="#000" stroke-width="1.8"/>
<line x1="363.00" y1="848.14" x2="366.00" y2="848.14" stroke="#000" stroke-width="1.8"/>
<line x1="363.00" y1="804.50" x2="366.00" y2="804.50" stroke="#000" stroke-width="1.8"/>
<line x1="363.00" y1="760.86" x2="366.00" y2="760.86" stroke="#000" stroke-width="1.8"/>
<line x1="363.00" y1="717.22" x2="366.00" y2="717.22" stroke="#000" stroke-width="1.8"/>
<line x1="390.25" y1="913.60" x2="390.25" y2="919.60" stroke="#000" stroke-width="1.8"/>
<text transform="translate(390.85 935.30) scale(1.060 1.040)" font-size="15" text-anchor="middle">Ch</text>
<line x1="438.60" y1="913.60" x2="438.60" y2="919.60" stroke="#000" stroke-width="1.8"/>
<text transform="translate(439.20 935.30) scale(1.060 1.040)" font-size="15" text-anchor="middle">Pr</text>
<line x1="486.80" y1="913.60" x2="486.80" y2="919.60" stroke="#000" stroke-width="1.8"/>
<text transform="translate(487.40 935.30) scale(1.060 1.040)" font-size="15" text-anchor="middle">Tx</text>
<text transform="translate(323.00 803.30) rotate(-90)" font-size="18.5" text-anchor="middle" textLength="133" lengthAdjust="spacingAndGlyphs">% of naïve cells</text>
<text x="8.50" y="21.00" font-size="25" text-anchor="start">A</text>
<text x="281.80" y="21.00" font-size="25" text-anchor="start">B</text>
<text x="8.00" y="324.00" font-size="25" text-anchor="start">C</text>
<text x="281.80" y="324.50" font-size="25" text-anchor="start">D</text>
<text x="10.00" y="674.80" font-size="25" text-anchor="start">E</text>
<text x="146.60" y="330.30" font-size="18" text-anchor="middle" textLength="158" lengthAdjust="spacingAndGlyphs">mem CD8+ T cells</text>
<text x="436.20" y="332.50" font-size="18" text-anchor="middle" textLength="103" lengthAdjust="spacingAndGlyphs">CD34+ cells</text>
<text x="153.10" y="682.50" font-size="18" text-anchor="middle" textLength="110" lengthAdjust="spacingAndGlyphs">CD8+ T cells</text>
<text x="439.30" y="680.80" font-size="18" text-anchor="middle" textLength="111" lengthAdjust="spacingAndGlyphs">CD4+ T cells</text>
<line x1="386.40" y1="20.00" x2="425.30" y2="20.00" stroke="#3a3a3a" stroke-width="1.6"/>
<line x1="431.00" y1="20.00" x2="469.40" y2="20.00" stroke="#3a3a3a" stroke-width="1.6"/>
<text x="398.60" y="23.08" font-size="16.5" text-anchor="middle" class="st">*</text>
<text x="406.30" y="23.08" font-size="16.5" text-anchor="middle" class="st">*</text>
<text x="414.00" y="23.08" font-size="16.5" text-anchor="middle" class="st">*</text>
<text x="441.60" y="22.98" font-size="16.5" text-anchor="middle" class="st">*</text>
<text x="449.30" y="22.98" font-size="16.5" text-anchor="middle" class="st">*</text>
<text x="457.00" y="22.98" font-size="16.5" text-anchor="middle" class="st">*</text>
<line x1="103.50" y1="349.30" x2="145.80" y2="349.30" stroke="#3a3a3a" stroke-width="1.6"/>
<line x1="152.00" y1="349.30" x2="194.00" y2="349.30" stroke="#3a3a3a" stroke-width="1.6"/>
<text x="125.00" y="350.63" font-size="17" text-anchor="middle" class="st">*</text>
<text x="164.35" y="350.53" font-size="17" text-anchor="middle" class="st">*</text>
<text x="172.50" y="350.53" font-size="17" text-anchor="middle" class="st">*</text>
<text x="180.65" y="350.53" font-size="17" text-anchor="middle" class="st">*</text>
<line x1="391.90" y1="364.70" x2="435.00" y2="364.70" stroke="#3a3a3a" stroke-width="1.6"/>
<line x1="441.20" y1="364.70" x2="484.20" y2="364.70" stroke="#3a3a3a" stroke-width="1.6"/>
<text x="405.60" y="367.59" font-size="17.5" text-anchor="middle" class="st">*</text>
<text x="414.00" y="367.59" font-size="17.5" text-anchor="middle" class="st">*</text>
<text x="422.40" y="367.59" font-size="17.5" text-anchor="middle" class="st">*</text>
<text x="457.30" y="367.39" font-size="17.5" text-anchor="middle" class="st">*</text>
<text x="465.50" y="367.39" font-size="17.5" text-anchor="middle" class="st">*</text>
<line x1="108.00" y1="698.80" x2="150.50" y2="698.80" stroke="#3a3a3a" stroke-width="1.6"/>
<line x1="157.00" y1="698.80" x2="200.00" y2="698.80" stroke="#3a3a3a" stroke-width="1.6"/>
<text x="125.75" y="701.49" font-size="17.5" text-anchor="middle" class="st">*</text>
<text x="134.25" y="701.49" font-size="17.5" text-anchor="middle" class="st">*</text>
<text x="177.30" y="701.49" font-size="17.5" text-anchor="middle" class="st">*</text>
<line x1="392.70" y1="696.60" x2="434.20" y2="696.60" stroke="#505050" stroke-width="1.6"/>
<line x1="441.80" y1="696.60" x2="484.40" y2="696.60" stroke="#505050" stroke-width="1.6"/>
<text x="410.35" y="699.49" font-size="17.5" text-anchor="middle" class="st">*</text>
<text x="418.65" y="699.49" font-size="17.5" text-anchor="middle" class="st">*</text>
<text x="461.60" y="699.49" font-size="17.5" text-anchor="middle" class="st">*</text>
</svg>
</body></html>
